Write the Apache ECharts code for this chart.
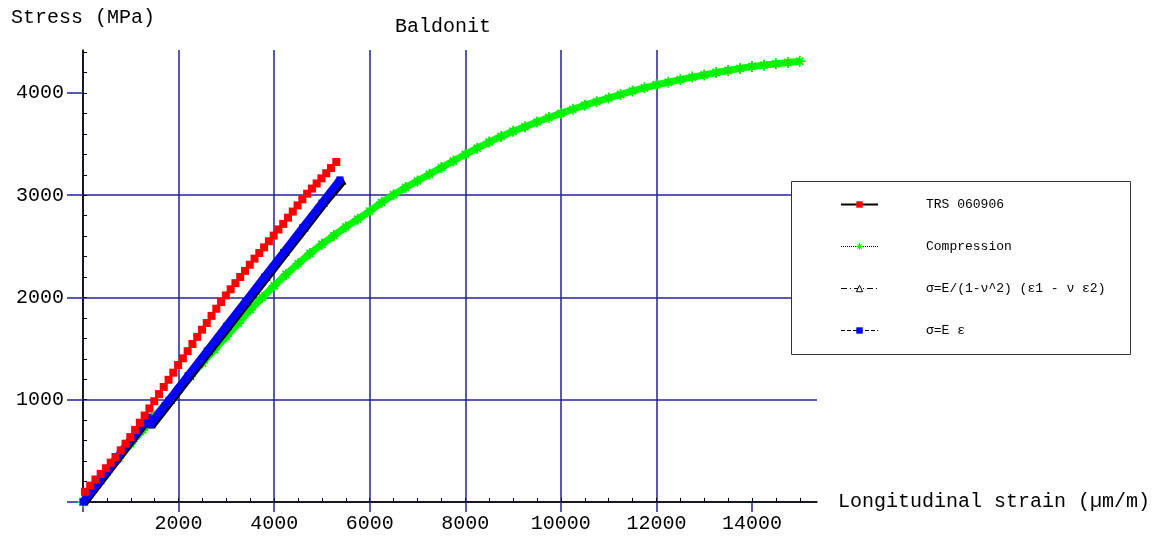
<!DOCTYPE html>
<html>
<head>
<meta charset="utf-8">
<script src="https://cdn.jsdelivr.net/npm/echarts@6/dist/echarts.min.js"></script>
<style>html,body{margin:0;padding:0;background:#fff;}#c{width:1174px;height:539px;}</style>
</head>
<body>
<div id="c"></div>
<script>
// ---- data (strain µm/m, stress MPa) ----
const seriesNames = ['TRS 060906', 'Compression', 'σ=E/(1-ν^2) (ε1 - ν ε2)', 'σ=E ε'];
const xTickLabels = [2000, 4000, 6000, 8000, 10000, 12000, 14000];
const yTickLabels = [1000, 2000, 3000, 4000];

const trsData = [
  [40,100],[150,160],[260,220],[370,275],[480,330],[580,385],[680,440],[790,505],[890,570],[990,635],
  [1090,705],[1190,775],[1290,845],[1390,915],[1490,985],[1590,1055],[1690,1125],[1790,1195],[1890,1265],[1990,1340],
  [2090,1405],[2190,1475],[2290,1545],[2390,1615],[2490,1685],[2590,1750],[2690,1820],[2790,1890],[2890,1955],[2990,2020],
  [3090,2080],[3190,2140],[3290,2200],[3390,2260],[3490,2320],[3590,2380],[3690,2435],[3790,2490],[3890,2550],[3990,2605],
  [4090,2665],[4190,2720],[4290,2780],[4390,2840],[4490,2900],[4590,2960],[4690,3015],[4790,3065],[4890,3115],[4990,3165],
  [5090,3215],[5190,3265],[5300,3325]
];

const compressionData = [
  [0,0],[250,150],[500,290],[750,430],[1000,570],[1250,705],[1500,840],[1750,970],[2000,1100],[2250,1230],
  [2500,1360],[2750,1490],[3000,1620],[3250,1750],[3500,1880],[3750,2000],[4000,2115],[4250,2225],[4500,2330],[4750,2430],
  [5000,2520],[5250,2605],[5500,2690],[5750,2765],[6000,2845],[6250,2930],[6500,3005],[6750,3075],[7000,3140],[7250,3205],
  [7500,3270],[7750,3335],[8000,3400],[8250,3460],[8500,3520],[8750,3575],[9000,3625],[9250,3670],[9500,3715],[9750,3760],
  [10000,3800],[10250,3840],[10500,3880],[10750,3915],[11000,3950],[11250,3985],[11500,4020],[11750,4050],[12000,4080],[12250,4105],
  [12500,4130],[12750,4155],[13000,4175],[13250,4200],[13500,4220],[13750,4240],[14000,4258],[14250,4272],[14500,4285],[14750,4298],
  [15000,4310]
];

const planeStressData = [
  [40,0],[380,207],[720,415],[1060,622],[1400,830],
  [1450,752],[1850,993],[2250,1234],[2650,1475],[3050,1716],[3450,1957],[3850,2198],[4250,2439],[4650,2680],[5050,2921],[5440,3140]
];

const uniaxialData = [
  [0,0],[340,207],[680,415],[1020,622],[1360,830],
  [1400,755],[1800,995],[2200,1236],[2600,1477],[3000,1718],[3400,1959],[3800,2200],[4200,2441],[4600,2682],[5000,2923],[5377,3150]
];

const xMinorTicks = []; for (let v = 0; v <= 15000; v += 500) xMinorTicks.push(v);
const yMinorTicks = []; for (let v = 0; v <= 4400; v += 200) yMinorTicks.push(v);
const xMajorTicks = [0].concat(xTickLabels);
const yMajorTicks = [0].concat(yTickLabels);

// ---- chart ----
const FONT = 'Liberation Mono';
const GRID = '#22229a';
const starPath = 'path://M4.2,0h1.6v10h-1.6z M0,4.2h10v1.6h-10z M1.2,2.3L2.3,1.2L8.8,7.7L7.7,8.8z M7.7,1.2L8.8,2.3L2.3,8.8L1.2,7.7z';
const plain = v => String(v);

const chart = echarts.init(document.getElementById('c'), null, {renderer: 'canvas'});
chart.setOption({
  animation: false,
  backgroundColor: '#fff',
  title: {
    text: 'Baldonit', left: 390, top: 12,
    textStyle: {fontFamily: FONT, fontSize: 20, fontWeight: 'normal', color: '#000'}
  },
  grid: {left: 83, right: 357, top: 50, bottom: 37, containLabel: false},
  graphic: [{
    type: 'rect', left: 791, top: 181, z: 50,
    shape: {width: 339, height: 173},
    style: {fill: '#fff', stroke: '#333', lineWidth: 1}
  }],
  legend: {
    orient: 'vertical', left: 840, top: 198, padding: 0, z: 60,
    itemWidth: 37, itemHeight: 8, itemGap: 29, selectedMode: false,
    textStyle: {fontFamily: FONT, fontSize: 13, color: '#000', padding: [0, 0, 0, 43]},
    data: [
      {name: seriesNames[0]},
      {name: seriesNames[1], lineStyle: {color: '#000', type: 'dotted', width: 1}},
      {name: seriesNames[2], lineStyle: {color: '#000', type: [6, 3, 1, 3], width: 1},
        itemStyle: {color: '#fff', borderColor: '#000', borderWidth: 1}},
      {name: seriesNames[3], lineStyle: {color: '#000', type: 'dashed', width: 1}}
    ]
  },
  xAxis: [{
    type: 'value', min: 0, max: 15360, interval: 2000, position: 'bottom',
    name: 'Longitudinal strain (µm/m)', nameLocation: 'end', nameGap: 21,
    nameTextStyle: {fontFamily: FONT, fontSize: 20, color: '#000', align: 'left', verticalAlign: 'middle'},
    axisLine: {show: true, lineStyle: {color: '#000', width: 1.5}},
    axisTick: {show: true, inside: false, length: 10, lineStyle: {color: GRID, width: 1.5}, customValues: xMajorTicks},
    axisLabel: {fontFamily: FONT, fontSize: 20, color: '#000', margin: 12, customValues: xTickLabels, formatter: plain},
    splitLine: {show: true, showMaxLine: false, lineStyle: {color: GRID, width: 1.5}}
  }, {
    type: 'value', min: 0, max: 15360, position: 'bottom', offset: 0,
    axisLine: {show: false}, axisLabel: {show: false}, splitLine: {show: false},
    axisTick: {show: true, inside: true, length: 4, lineStyle: {color: '#000', width: 1}, customValues: xMinorTicks}
  }],
  yAxis: [{
    type: 'value', min: 0, max: 4420, interval: 1000, position: 'left',
    name: 'Stress (MPa)', nameLocation: 'end', nameGap: 22,
    nameTextStyle: {fontFamily: FONT, fontSize: 20, color: '#000', align: 'center'},
    axisLine: {show: true, lineStyle: {color: '#000', width: 1.5}},
    axisTick: {show: true, inside: false, length: 16, lineStyle: {color: GRID, width: 1.5}, customValues: yMajorTicks},
    axisLabel: {fontFamily: FONT, fontSize: 20, color: '#000', margin: 19, customValues: yTickLabels, formatter: plain},
    splitLine: {show: true, showMaxLine: false, lineStyle: {color: GRID, width: 1.5}}
  }, {
    type: 'value', min: 0, max: 4420, position: 'left', offset: 0,
    axisLine: {show: false}, axisLabel: {show: false}, splitLine: {show: false},
    axisTick: {show: true, inside: true, length: 4, lineStyle: {color: '#000', width: 1}, customValues: yMinorTicks}
  }],
  series: [
    {
      name: seriesNames[1], type: 'line', data: compressionData, z: 3,
      symbol: starPath, symbolSize: 11, showAllSymbol: true,
      itemStyle: {color: '#00ee00'},
      lineStyle: {color: '#00ff00', width: 7}
    },
    {
      name: seriesNames[2], type: 'line', data: planeStressData, z: 4,
      symbol: 'triangle', symbolSize: 7, showAllSymbol: true,
      itemStyle: {color: '#000'},
      lineStyle: {color: '#000', width: 8}
    },
    {
      name: seriesNames[3], type: 'line', data: uniaxialData, z: 5,
      symbol: 'rect', symbolSize: 7, showAllSymbol: true,
      itemStyle: {color: '#0000ff'},
      lineStyle: {color: '#0000ff', width: 8}
    },
    {
      name: seriesNames[0], type: 'line', data: trsData, z: 6,
      symbol: 'rect', symbolSize: 8, showAllSymbol: true,
      itemStyle: {color: '#ff0000'},
      lineStyle: {color: '#000', width: 1}
    }
  ]
});
</script>
</body>
</html>
